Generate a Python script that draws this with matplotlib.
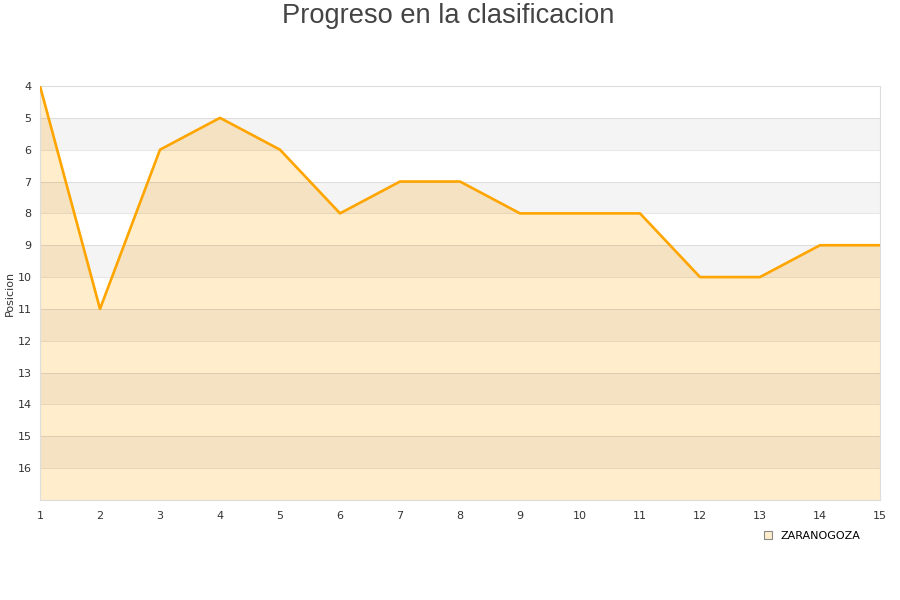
import matplotlib
matplotlib.use("Agg")
import matplotlib.pyplot as plt
from matplotlib.lines import Line2D

jornadas = list(range(1, 16))
posicion = [4, 11, 6, 5, 6, 8, 7, 7, 8, 8, 8, 10, 10, 9, 9]
equipo = "ZARANOGOZA"
y_ticks = list(range(4, 17))


def main():
    fig = plt.figure(figsize=(9, 6), dpi=100)
    ax = fig.add_axes([40 / 900, 100 / 600, 840 / 900, 414 / 600])

    ax.set_xlim(1, 15)
    ax.set_ylim(17, 4)

    # area under the line
    ax.fill_between(jornadas, posicion, 17, color="#ffedcc", zorder=1, linewidth=0)

    # alternating bands
    for y in range(5, 17, 2):
        ax.axhspan(y, y + 1, color="black", alpha=0.045, zorder=2, linewidth=0)

    for y in range(5, 17):
        ax.axhline(y, color="black", alpha=0.09, linewidth=0.8, zorder=2)

    ax.plot(jornadas, posicion, color="#ffa500", linewidth=1.9, zorder=3)

    ax.set_xticks(jornadas)
    ax.set_yticks(y_ticks)
    ax.tick_params(length=0, labelsize=8, colors="#333333")
    ax.tick_params(axis="x", pad=8)
    ax.tick_params(axis="y", pad=6)
    for s in ax.spines.values():
        s.set_color("#dddddd")
        s.set_linewidth(0.8)

    ax.set_ylabel("Posicion", fontsize=8, color="#333333")
    ax.yaxis.set_label_coords(-25 / 840, 0.5)

    fig.text(0.498, 1 - 16 / 600, "Progreso en la clasificacion", fontsize=19.6,
             family="Liberation Sans", color="#444444", ha="center", va="center")

    handle = Line2D([], [], marker="s", linestyle="none", markersize=6,
                    markerfacecolor="#ffedcc", markeredgecolor="#888888", markeredgewidth=0.8)
    fig.legend([handle], [equipo], loc="center left", bbox_to_anchor=(752 / 900, 1 - 536 / 600),
               frameon=False, fontsize=8, handletextpad=0.2, borderaxespad=0)

    fig.savefig("out.png", dpi=100)


if __name__ == "__main__":
    main()
